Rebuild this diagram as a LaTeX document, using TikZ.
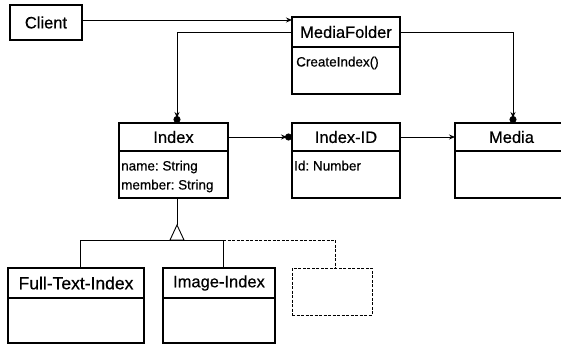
\documentclass[tikz,border=0pt]{standalone}
\usepackage{fontspec}
\setmainfont{Liberation Sans}[UprightFeatures={FakeBold=0.5}]
\usetikzlibrary{arrows.meta}
\begin{document}
\frenchspacing
\begin{tikzpicture}[x=1pt,y=-1pt,
  box/.style={draw, line width=1.4pt, anchor=north west, inner sep=0pt, outer sep=0pt},
  dashbox/.style={draw, line width=0.9pt, dash pattern=on 3pt off 1.5pt, anchor=north west, inner sep=0pt, outer sep=0pt},
  ttl/.style={font=\fontsize{16.5}{18}\selectfont},
  attr/.style={font=\fontsize{13.5}{19}\selectfont, anchor=north west, inner sep=0pt, align=left},
  conn/.style={line width=0.9pt},
  arr/.style={conn, -{Stealth[length=6pt,width=5pt]}},
  dotarr/.style={conn, -{Stealth[length=6pt,width=5pt,sep=-2pt] Circle[length=7pt]}},
]
\useasboundingbox (0,0) rectangle (561,345);
\clip (0,0) rectangle (561,345);

% Client
\node[box, minimum width=72pt, minimum height=35pt, ttl] (client) at (10,5) {Client};

% MediaFolder
\node[box, minimum width=108pt, minimum height=30pt, ttl] (mf) at (292,17) {MediaFolder};
\node[box, minimum width=108pt, minimum height=47pt] (mfb) at (mf.south west) {};
\node[attr] (mfa) at ([shift={(4pt,-9.5pt)}]mfb.north west) {CreateIndex()};

% Index
\node[box, minimum width=109pt, minimum height=28pt, ttl] (idx) at (119,123) {Index};
\node[box, minimum width=109pt, minimum height=47pt] (idxb) at (idx.south west) {};
\node[attr] (idxa) at ([shift={(2pt,-9.5pt)}]idxb.north west) {name: String\\member: String};

% Index-ID
\node[box, minimum width=108pt, minimum height=28pt, ttl] (iid) at (292,123) {Index-ID};
\node[box, minimum width=108pt, minimum height=47pt] (iidb) at (iid.south west) {};
\node[attr] (iida) at ([shift={(2pt,-9.5pt)}]iidb.north west) {Id: Number};

% Media
\node[box, minimum width=113pt, minimum height=28pt, ttl] (media) at (455,123) {Media};
\node[box, minimum width=113pt, minimum height=47pt] (mediab) at (media.south west) {};

% Subclasses
\node[box, minimum width=136pt, minimum height=30pt, ttl, font=\fontsize{17.5}{19}\selectfont] (ft) at (8,268) {Full-Text-Index};
\node[box, minimum width=136pt, minimum height=45pt] (ftb) at (ft.south west) {};
\node[box, minimum width=112pt, minimum height=30pt, ttl] (ii) at (163,268) {Image-Index};
\node[box, minimum width=112pt, minimum height=45pt] (iib) at (ii.south west) {};
\node[dashbox, minimum width=80pt, minimum height=47pt] (dsh) at (292,268) {};

% Associations
\coordinate (c1) at ([yshift=2.5pt]client.east);
\draw[arr] (c1) -- (c1 -| mf.west);
\draw[dotarr] (mf.west) -| ([xshift=3.5pt]idx.north);
\draw[dotarr] (mf.east) -| ([xshift=1.5pt]media.north);
\draw[dotarr] (idx.east) -- (iid.west);
\draw[arr] (iid.east) -- (media.west);

% Generalization
\coordinate (tri) at (177,225);
\draw[conn] (idxb.south -| tri) -- (tri);
\draw[conn, line join=miter] (tri) -- ++(-7,15) -- ++(14,0) -- cycle;
\coordinate (h1) at (80,240);
\coordinate (h2) at (223,240);
\coordinate (h3) at (335,240);
\draw[conn] (h1) -- (h2);
\draw[conn, dash pattern=on 3pt off 1.5pt] (h2) -- (h3);
\draw[conn] (h1) -- (h1 |- ft.north);
\draw[conn] (h2) -- (h2 |- ii.north);
\draw[conn, dash pattern=on 3pt off 1.5pt] (h3) -- (h3 |- dsh.north);
\end{tikzpicture}
\end{document}
